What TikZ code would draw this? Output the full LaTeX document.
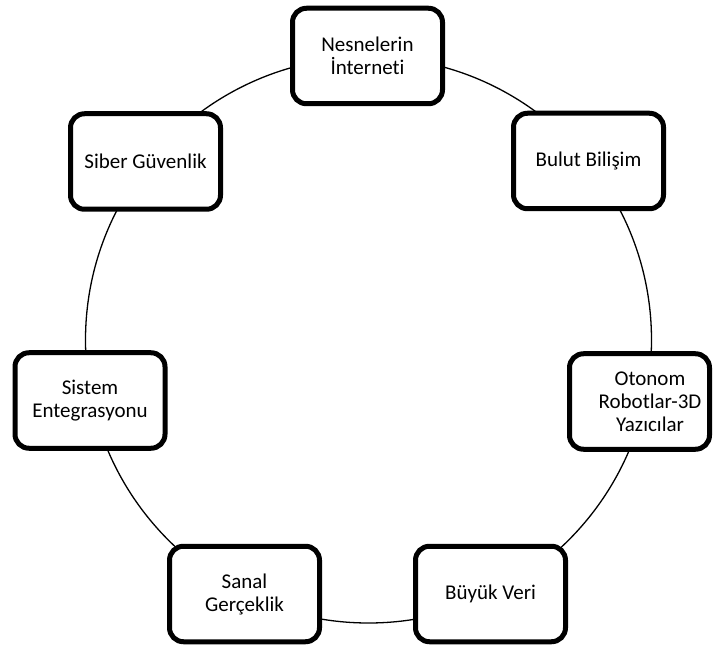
\documentclass[tikz,border=0pt]{standalone}
\usepackage{fontspec}
\setmainfont{Carlito}[Ligatures=NoCommon]
\begin{document}
\begin{tikzpicture}[x=1pt,y=-1pt,
  box/.style={draw=black, line width=5pt, rounded corners=14pt, fill=white,
    minimum width=150pt, minimum height=95.5pt, inner sep=0pt, align=center,
    font=\fontsize{21}{23}\selectfont},
  txt/.style={align=center, inner sep=0pt, font=\fontsize{21}{23}\selectfont},
  ring/.style={draw=black, line width=1.3pt}]
\useasboundingbox (0,0) rectangle (713,647);
\coordinate (c) at (368.5,340);
\draw[ring] (c) circle[radius=283];
\node[box] (nes) at (367.5,56) {Nesnelerin\\İnterneti};
\node[box] (bul) at (588.5,161) {Bulut Bilişim};
\node[box, minimum width=140pt] (oto) at (639.5,401.5) {};
\node[txt] (otot) at (650,401.5) {Otonom\\Robotlar-3D\\Yazıcılar};
\node[box] (buy) at (490.5,594) {Büyük Veri};
\node[box] (san) at (244.5,594) {Sanal\\Gerçeklik};
\node[box] (sis) at (90,400.5) {Sistem\\Entegrasyonu};
\node[box] (sib) at (145.5,161.5) {Siber Güvenlik};
\end{tikzpicture}
\end{document}
